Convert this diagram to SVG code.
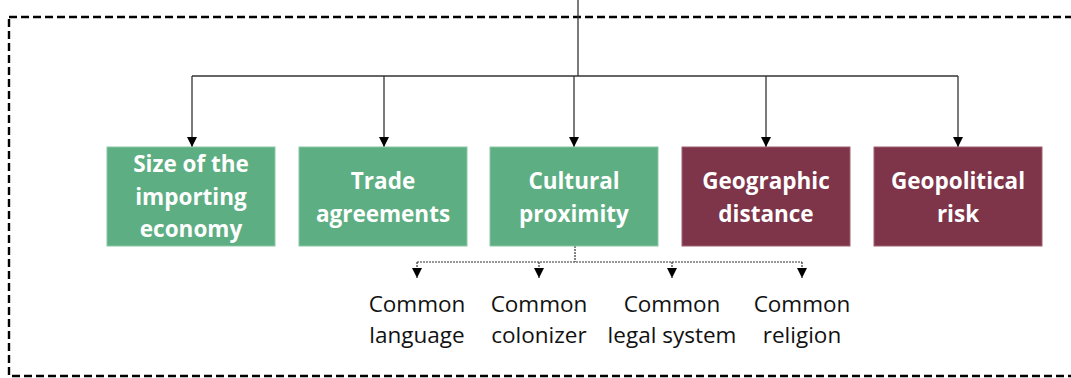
<svg xmlns="http://www.w3.org/2000/svg" width="1071" height="378" viewBox="0 0 1071 378">
<defs>
<marker id="ah" viewBox="0 0 10 10" refX="10" refY="5" markerWidth="11" markerHeight="10" markerUnits="userSpaceOnUse" orient="auto"><path d="M0,0 L10,5 L0,10 z" fill="#000"/></marker>
<marker id="ahs" viewBox="0 0 10 10" refX="10" refY="5" markerWidth="10" markerHeight="10" markerUnits="userSpaceOnUse" orient="auto"><path d="M0,0 L10,5 L0,10 z" fill="#000"/></marker>
</defs>
<style>
.green{fill:#5DAE82;stroke:#8cc8a5;stroke-width:1}
.red{fill:#7E3449;stroke:#a06070;stroke-width:1}
.bt{font-family:"Open Sans","Liberation Sans",sans-serif;font-weight:bold;font-size:22.5px;fill:#fff;text-anchor:middle}
.st{font-family:"Open Sans","Liberation Sans",sans-serif;font-size:22.5px;fill:#111;text-anchor:middle}
.main{fill:none;stroke:#333;stroke-width:1.3}
.sub{fill:none;stroke:#333;stroke-width:1.2;stroke-dasharray:2,1}
</style>
<rect x="9" y="17" width="1080" height="359" fill="none" stroke="#000" stroke-width="2.4" stroke-dasharray="8,4"/>
<g id="connectors">
<path class="main" d="M578,0 V76"/>
<path class="main" d="M192,76 H958"/>
<path class="main" d="M192,76 V147" marker-end="url(#ah)"/>
<path class="main" d="M384,76 V147" marker-end="url(#ah)"/>
<path class="main" d="M574,76 V147" marker-end="url(#ah)"/>
<path class="main" d="M766,76 V147" marker-end="url(#ah)"/>
<path class="main" d="M958,76 V147" marker-end="url(#ah)"/>
<path class="sub" d="M575,246 V262"/>
<path class="sub" d="M417,262 H802"/>
<path class="sub" d="M417,262 V278" marker-end="url(#ahs)"/>
<path class="sub" d="M539,262 V278" marker-end="url(#ahs)"/>
<path class="sub" d="M672,262 V278" marker-end="url(#ahs)"/>
<path class="sub" d="M802,262 V278" marker-end="url(#ahs)"/>
</g>
<g id="size">
<rect class="green" x="107" y="147" width="168" height="99"/>
<text class="bt" x="191" y="172">Size of the</text>
<text class="bt" x="191" y="204.5">importing</text>
<text class="bt" x="191" y="237">economy</text>
</g>
<g id="trade">
<rect class="green" x="299" y="147" width="168" height="99"/>
<text class="bt" x="383" y="189">Trade</text>
<text class="bt" x="383" y="222">agreements</text>
</g>
<g id="cultural">
<rect class="green" x="490" y="147" width="168" height="99"/>
<text class="bt" x="574" y="189">Cultural</text>
<text class="bt" x="574" y="222">proximity</text>
</g>
<g id="geographic">
<rect class="red" x="682" y="147" width="168" height="99"/>
<text class="bt" x="766" y="189">Geographic</text>
<text class="bt" x="766" y="222">distance</text>
</g>
<g id="geopolitical">
<rect class="red" x="874" y="147" width="168" height="99"/>
<text class="bt" x="958" y="189">Geopolitical</text>
<text class="bt" x="958" y="222">risk</text>
</g>
<g id="language">
<text class="st" x="417" y="312">Common</text>
<text class="st" x="417" y="343">language</text>
</g>
<g id="colonizer">
<text class="st" x="539" y="312">Common</text>
<text class="st" x="539" y="343">colonizer</text>
</g>
<g id="legal">
<text class="st" x="672" y="312">Common</text>
<text class="st" x="672" y="343">legal system</text>
</g>
<g id="religion">
<text class="st" x="802" y="312">Common</text>
<text class="st" x="802" y="343">religion</text>
</g>
</svg>
